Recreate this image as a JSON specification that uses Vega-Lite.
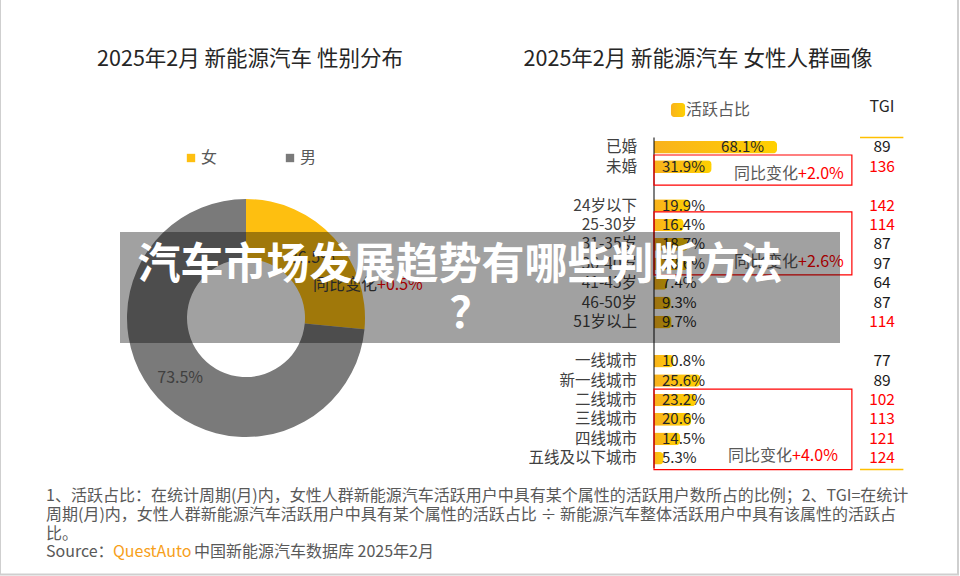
{
  "$schema": "https://vega.github.io/schema/vega-lite/v6.json",
  "width": 960,
  "height": 576,
  "autosize": {"type": "none"},
  "padding": 0,
  "background": "#ffffff",
  "config": {
    "view": {"stroke": null},
    "font": "Noto Sans CJK SC",
    "text": {"font": "Noto Sans CJK SC"},
    "axis": {"labelFont": "Noto Sans CJK SC"},
    "legend": {"labelFont": "Noto Sans CJK SC"}
  },
  "datasets": {
    "gender": [
      {"gender": "女", "share": 0.265},
      {"gender": "男", "share": 0.735}
    ],
    "profile": [
      {"cat": "已婚", "share": 0.681, "tgi": 89},
      {"cat": "未婚", "share": 0.319, "tgi": 136},
      {"cat": "24岁以下", "share": 0.199, "tgi": 142},
      {"cat": "25-30岁", "share": 0.164, "tgi": 114},
      {"cat": "31-35岁", "share": 0.187, "tgi": 87},
      {"cat": "36-40岁", "share": 0.186, "tgi": 97},
      {"cat": "41-45岁", "share": 0.074, "tgi": 64},
      {"cat": "46-50岁", "share": 0.093, "tgi": 87},
      {"cat": "51岁以上", "share": 0.097, "tgi": 114},
      {"cat": "一线城市", "share": 0.108, "tgi": 77},
      {"cat": "新一线城市", "share": 0.256, "tgi": 89},
      {"cat": "二线城市", "share": 0.232, "tgi": 102},
      {"cat": "三线城市", "share": 0.206, "tgi": 113},
      {"cat": "四线城市", "share": 0.145, "tgi": 121},
      {"cat": "五线及以下城市", "share": 0.053, "tgi": 124}
    ]
  },
  "resolve": {"scale": {"x": "independent", "y": "independent", "color": "independent", "theta": "independent"}},
  "layer": [
    {
      "data": {"values": [{}]},
      "mark": {"type": "rect", "fill": null, "stroke": "#CFCFCF", "strokeWidth": 2},
      "encoding": {
        "x": {"datum": 0, "type": "quantitative", "scale": {"domain": [0, 960], "range": [0, 960], "nice": false, "zero": false}, "axis": null},
        "x2": {"datum": 958},
        "y": {"datum": -4, "type": "quantitative", "scale": {"domain": [0, 576], "range": [0, 576], "nice": false, "zero": false}, "axis": null},
        "y2": {"datum": 574.5}
      }
    },
    {
      "data": {"name": "gender"},
      "encoding": {
        "theta": {"field": "share", "type": "quantitative", "stack": true},
        "x": {"datum": 246, "type": "quantitative", "scale": {"domain": [0, 960], "range": [0, 960], "nice": false, "zero": false}, "axis": null},
        "y": {"datum": 318, "type": "quantitative", "scale": {"domain": [0, 576], "range": [0, 576], "nice": false, "zero": false}, "axis": null},
        "color": {
          "field": "gender", "type": "nominal",
          "scale": {"domain": ["女", "男"], "range": ["#FEBF10", "#7A7A7A"]},
          "legend": {"title": null, "orient": "none", "legendX": 183, "legendY": 150, "direction": "horizontal", "symbolType": "square", "symbolSize": 70, "labelFontSize": 16, "labelColor": "#595959", "columnPadding": 64, "labelOffset": 2, "padding": 0, "symbolStrokeWidth": 0}
        }
      },
      "layer": [
        {"mark": {"type": "arc", "innerRadius": 59, "outerRadius": 119}},
        {
          "mark": {"type": "text", "radius": 89, "fontSize": 16},
          "encoding": {
            "text": {"field": "share", "type": "quantitative", "format": ".1%"},
            "color": {"value": "#404040"}
          }
        }
      ]
    },
    {
      "data": {"name": "profile"},
      "layer": [
        {
          "mark": {"type": "bar", "height": {"band": 0.65}, "cornerRadiusEnd": 4, "color": {"gradient": "linear", "x1": 0, "y1": 0, "x2": 1, "y2": 0, "stops": [{"offset": 0, "color": "#F9B21D"}, {"offset": 1, "color": "#FFD000"}]}},
          "encoding": {
            "y": {"field": "cat", "type": "nominal", "sort": null, "scale": {"domain": ["已婚", "未婚", "sp1", "24岁以下", "25-30岁", "31-35岁", "36-40岁", "41-45岁", "46-50岁", "51岁以上", "sp2", "一线城市", "新一线城市", "二线城市", "三线城市", "四线城市", "五线及以下城市"], "range": [137.5, 468], "paddingInner": 0, "paddingOuter": 0}, "axis": null},
            "x": {"field": "share", "type": "quantitative", "scale": {"domain": [0, 1.4], "range": [654, 907], "nice": false, "zero": false}, "axis": null}
          }
        },
        {
          "mark": {"type": "text", "align": "right", "baseline": "middle", "dx": -17, "fontSize": 15.5, "color": "#404040"},
          "encoding": {
            "y": {"field": "cat", "type": "nominal", "sort": null, "scale": {"domain": ["已婚", "未婚", "sp1", "24岁以下", "25-30岁", "31-35岁", "36-40岁", "41-45岁", "46-50岁", "51岁以上", "sp2", "一线城市", "新一线城市", "二线城市", "三线城市", "四线城市", "五线及以下城市"], "range": [137.5, 468], "paddingInner": 0, "paddingOuter": 0}, "axis": null},
            "x": {"datum": 0, "type": "quantitative", "scale": {"domain": [0, 1.4], "range": [654, 907], "nice": false, "zero": false}, "axis": null},
            "text": {"field": "cat", "type": "nominal"}
          }
        },
        {
          "transform": [{"filter": "datum.share < 0.5"}],
          "mark": {"type": "text", "align": "left", "baseline": "middle", "dx": 8, "fontSize": 15, "color": "#262626"},
          "encoding": {
            "y": {"field": "cat", "type": "nominal", "sort": null, "scale": {"domain": ["已婚", "未婚", "sp1", "24岁以下", "25-30岁", "31-35岁", "36-40岁", "41-45岁", "46-50岁", "51岁以上", "sp2", "一线城市", "新一线城市", "二线城市", "三线城市", "四线城市", "五线及以下城市"], "range": [137.5, 468], "paddingInner": 0, "paddingOuter": 0}, "axis": null},
            "x": {"datum": 0, "type": "quantitative", "scale": {"domain": [0, 1.4], "range": [654, 907], "nice": false, "zero": false}, "axis": null},
            "text": {"field": "share", "type": "quantitative", "format": ".1%"}
          }
        },
        {
          "transform": [{"filter": "datum.share >= 0.5"}],
          "mark": {"type": "text", "align": "right", "baseline": "middle", "dx": -13, "fontSize": 15, "color": "#262626"},
          "encoding": {
            "y": {"field": "cat", "type": "nominal", "sort": null, "scale": {"domain": ["已婚", "未婚", "sp1", "24岁以下", "25-30岁", "31-35岁", "36-40岁", "41-45岁", "46-50岁", "51岁以上", "sp2", "一线城市", "新一线城市", "二线城市", "三线城市", "四线城市", "五线及以下城市"], "range": [137.5, 468], "paddingInner": 0, "paddingOuter": 0}, "axis": null},
            "x": {"field": "share", "type": "quantitative", "scale": {"domain": [0, 1.4], "range": [654, 907], "nice": false, "zero": false}, "axis": null},
            "text": {"field": "share", "type": "quantitative", "format": ".1%"}
          }
        },
        {
          "mark": {"type": "text", "align": "center", "baseline": "middle", "fontSize": 15.5},
          "encoding": {
            "y": {"field": "cat", "type": "nominal", "sort": null, "scale": {"domain": ["已婚", "未婚", "sp1", "24岁以下", "25-30岁", "31-35岁", "36-40岁", "41-45岁", "46-50岁", "51岁以上", "sp2", "一线城市", "新一线城市", "二线城市", "三线城市", "四线城市", "五线及以下城市"], "range": [137.5, 468], "paddingInner": 0, "paddingOuter": 0}, "axis": null},
            "x": {"datum": 1.262, "type": "quantitative", "scale": {"domain": [0, 1.4], "range": [654, 907], "nice": false, "zero": false}, "axis": null},
            "text": {"field": "tgi", "type": "quantitative"},
            "color": {"condition": {"test": "datum.tgi > 100", "value": "#FF0000"}, "value": "#1A1A1A"}
          }
        },
        {
          "data": {"values": [{}]},
          "layer": [
            {
              "mark": {"type": "rule", "color": "#000000", "strokeWidth": 1},
              "encoding": {
                "x": {"datum": 0, "type": "quantitative", "scale": {"domain": [0, 1.4], "range": [654, 907], "nice": false, "zero": false}, "axis": null},
                "y": {"datum": "已婚", "type": "nominal", "bandPosition": 0, "scale": {"domain": ["已婚", "未婚", "sp1", "24岁以下", "25-30岁", "31-35岁", "36-40岁", "41-45岁", "46-50岁", "51岁以上", "sp2", "一线城市", "新一线城市", "二线城市", "三线城市", "四线城市", "五线及以下城市"], "range": [137.5, 468], "paddingInner": 0, "paddingOuter": 0}, "axis": null},
                "y2": {"datum": "五线及以下城市", "bandPosition": 1}
              }
            },
            {
              "mark": {"type": "text", "text": "TGI", "align": "center", "baseline": "middle", "fontSize": 16, "color": "#262626"},
              "encoding": {
                "x": {"datum": 1.262, "type": "quantitative", "scale": {"domain": [0, 1.4], "range": [654, 907], "nice": false, "zero": false}, "axis": null},
                "y": {"datum": "已婚", "type": "nominal", "bandPosition": -1.57, "scale": {"domain": ["已婚", "未婚", "sp1", "24岁以下", "25-30岁", "31-35岁", "36-40岁", "41-45岁", "46-50岁", "51岁以上", "sp2", "一线城市", "新一线城市", "二线城市", "三线城市", "四线城市", "五线及以下城市"], "range": [137.5, 468], "paddingInner": 0, "paddingOuter": 0}, "axis": null}
              }
            },
            {
              "mark": {"type": "rule", "color": "#FFC000", "strokeWidth": 1.5},
              "encoding": {
                "x": {"datum": 1.14, "type": "quantitative", "scale": {"domain": [0, 1.4], "range": [654, 907], "nice": false, "zero": false}, "axis": null},
                "x2": {"datum": 1.38},
                "y": {"datum": "已婚", "type": "nominal", "bandPosition": 0, "scale": {"domain": ["已婚", "未婚", "sp1", "24岁以下", "25-30岁", "31-35岁", "36-40岁", "41-45岁", "46-50岁", "51岁以上", "sp2", "一线城市", "新一线城市", "二线城市", "三线城市", "四线城市", "五线及以下城市"], "range": [137.5, 468], "paddingInner": 0, "paddingOuter": 0}, "axis": null}
              }
            },
            {
              "mark": {"type": "rule", "color": "#FFC000", "strokeWidth": 1.5},
              "encoding": {
                "x": {"datum": 1.14, "type": "quantitative", "scale": {"domain": [0, 1.4], "range": [654, 907], "nice": false, "zero": false}, "axis": null},
                "x2": {"datum": 1.38},
                "y": {"datum": "五线及以下城市", "type": "nominal", "bandPosition": 1.08, "scale": {"domain": ["已婚", "未婚", "sp1", "24岁以下", "25-30岁", "31-35岁", "36-40岁", "41-45岁", "46-50岁", "51岁以上", "sp2", "一线城市", "新一线城市", "二线城市", "三线城市", "四线城市", "五线及以下城市"], "range": [137.5, 468], "paddingInner": 0, "paddingOuter": 0}, "axis": null}
              }
            },
            {
              "mark": {"type": "rect", "cornerRadius": 3, "color": {"gradient": "linear", "x1": 0, "y1": 0, "x2": 1, "y2": 0, "stops": [{"offset": 0, "color": "#F9B21D"}, {"offset": 1, "color": "#FFD000"}]}},
              "encoding": {
                "x": {"datum": 0.094, "type": "quantitative", "scale": {"domain": [0, 1.4], "range": [654, 907], "nice": false, "zero": false}, "axis": null},
                "x2": {"datum": 0.172},
                "y": {"datum": "已婚", "type": "nominal", "bandPosition": -1.78, "scale": {"domain": ["已婚", "未婚", "sp1", "24岁以下", "25-30岁", "31-35岁", "36-40岁", "41-45岁", "46-50岁", "51岁以上", "sp2", "一线城市", "新一线城市", "二线城市", "三线城市", "四线城市", "五线及以下城市"], "range": [137.5, 468], "paddingInner": 0, "paddingOuter": 0}, "axis": null},
                "y2": {"datum": "已婚", "bandPosition": -1.06}
              }
            },
            {
              "mark": {"type": "text", "text": "活跃占比", "align": "left", "baseline": "middle", "fontSize": 16, "color": "#595959"},
              "encoding": {
                "x": {"datum": 0.177, "type": "quantitative", "scale": {"domain": [0, 1.4], "range": [654, 907], "nice": false, "zero": false}, "axis": null},
                "y": {"datum": "已婚", "type": "nominal", "bandPosition": -1.43, "scale": {"domain": ["已婚", "未婚", "sp1", "24岁以下", "25-30岁", "31-35岁", "36-40岁", "41-45岁", "46-50岁", "51岁以上", "sp2", "一线城市", "新一线城市", "二线城市", "三线城市", "四线城市", "五线及以下城市"], "range": [137.5, 468], "paddingInner": 0, "paddingOuter": 0}, "axis": null}
              }
            },
            {
              "mark": {"type": "rect", "fill": null, "stroke": "#FF0000", "strokeWidth": 1.2},
              "encoding": {
                "x": {"datum": 0, "type": "quantitative", "scale": {"domain": [0, 1.4], "range": [654, 907], "nice": false, "zero": false}, "axis": null},
                "x2": {"datum": 1.095},
                "y": {"datum": "未婚", "type": "nominal", "bandPosition": -0.1, "scale": {"domain": ["已婚", "未婚", "sp1", "24岁以下", "25-30岁", "31-35岁", "36-40岁", "41-45岁", "46-50岁", "51岁以上", "sp2", "一线城市", "新一线城市", "二线城市", "三线城市", "四线城市", "五线及以下城市"], "range": [137.5, 468], "paddingInner": 0, "paddingOuter": 0}, "axis": null},
                "y2": {"datum": "未婚", "bandPosition": 1.45}
              }
            },
            {
              "mark": {"type": "rect", "fill": null, "stroke": "#FF0000", "strokeWidth": 1.2},
              "encoding": {
                "x": {"datum": 0, "type": "quantitative", "scale": {"domain": [0, 1.4], "range": [654, 907], "nice": false, "zero": false}, "axis": null},
                "x2": {"datum": 1.095},
                "y": {"datum": "25-30岁", "type": "nominal", "bandPosition": -0.17, "scale": {"domain": ["已婚", "未婚", "sp1", "24岁以下", "25-30岁", "31-35岁", "36-40岁", "41-45岁", "46-50岁", "51岁以上", "sp2", "一线城市", "新一线城市", "二线城市", "三线城市", "四线城市", "五线及以下城市"], "range": [137.5, 468], "paddingInner": 0, "paddingOuter": 0}, "axis": null},
                "y2": {"datum": "36-40岁", "bandPosition": 1.07}
              }
            },
            {
              "mark": {"type": "rect", "fill": null, "stroke": "#FF0000", "strokeWidth": 1.2},
              "encoding": {
                "x": {"datum": 0, "type": "quantitative", "scale": {"domain": [0, 1.4], "range": [654, 907], "nice": false, "zero": false}, "axis": null},
                "x2": {"datum": 1.095},
                "y": {"datum": "二线城市", "type": "nominal", "bandPosition": -0.06, "scale": {"domain": ["已婚", "未婚", "sp1", "24岁以下", "25-30岁", "31-35岁", "36-40岁", "41-45岁", "46-50岁", "51岁以上", "sp2", "一线城市", "新一线城市", "二线城市", "三线城市", "四线城市", "五线及以下城市"], "range": [137.5, 468], "paddingInner": 0, "paddingOuter": 0}, "axis": null},
                "y2": {"datum": "五线及以下城市", "bandPosition": 1.08}
              }
            },
            {
              "mark": {"type": "text", "text": "同比变化", "align": "right", "baseline": "middle", "fontSize": 16, "color": "#595959"},
              "encoding": {
                "x": {"datum": 0.797, "type": "quantitative", "scale": {"domain": [0, 1.4], "range": [654, 907], "nice": false, "zero": false}, "axis": null},
                "y": {"datum": "未婚", "type": "nominal", "bandPosition": 0.87, "scale": {"domain": ["已婚", "未婚", "sp1", "24岁以下", "25-30岁", "31-35岁", "36-40岁", "41-45岁", "46-50岁", "51岁以上", "sp2", "一线城市", "新一线城市", "二线城市", "三线城市", "四线城市", "五线及以下城市"], "range": [137.5, 468], "paddingInner": 0, "paddingOuter": 0}, "axis": null}
              }
            },
            {
              "mark": {"type": "text", "text": "+2.0%", "align": "left", "baseline": "middle", "fontSize": 16, "color": "#FF0000"},
              "encoding": {
                "x": {"datum": 0.797, "type": "quantitative", "scale": {"domain": [0, 1.4], "range": [654, 907], "nice": false, "zero": false}, "axis": null},
                "y": {"datum": "未婚", "type": "nominal", "bandPosition": 0.87, "scale": {"domain": ["已婚", "未婚", "sp1", "24岁以下", "25-30岁", "31-35岁", "36-40岁", "41-45岁", "46-50岁", "51岁以上", "sp2", "一线城市", "新一线城市", "二线城市", "三线城市", "四线城市", "五线及以下城市"], "range": [137.5, 468], "paddingInner": 0, "paddingOuter": 0}, "axis": null}
              }
            },
            {
              "mark": {"type": "text", "text": "同比变化", "align": "right", "baseline": "middle", "fontSize": 16, "color": "#595959"},
              "encoding": {
                "x": {"datum": 0.797, "type": "quantitative", "scale": {"domain": [0, 1.4], "range": [654, 907], "nice": false, "zero": false}, "axis": null},
                "y": {"datum": "36-40岁", "type": "nominal", "bandPosition": 0.42, "scale": {"domain": ["已婚", "未婚", "sp1", "24岁以下", "25-30岁", "31-35岁", "36-40岁", "41-45岁", "46-50岁", "51岁以上", "sp2", "一线城市", "新一线城市", "二线城市", "三线城市", "四线城市", "五线及以下城市"], "range": [137.5, 468], "paddingInner": 0, "paddingOuter": 0}, "axis": null}
              }
            },
            {
              "mark": {"type": "text", "text": "+2.6%", "align": "left", "baseline": "middle", "fontSize": 16, "color": "#FF0000"},
              "encoding": {
                "x": {"datum": 0.797, "type": "quantitative", "scale": {"domain": [0, 1.4], "range": [654, 907], "nice": false, "zero": false}, "axis": null},
                "y": {"datum": "36-40岁", "type": "nominal", "bandPosition": 0.42, "scale": {"domain": ["已婚", "未婚", "sp1", "24岁以下", "25-30岁", "31-35岁", "36-40岁", "41-45岁", "46-50岁", "51岁以上", "sp2", "一线城市", "新一线城市", "二线城市", "三线城市", "四线城市", "五线及以下城市"], "range": [137.5, 468], "paddingInner": 0, "paddingOuter": 0}, "axis": null}
              }
            },
            {
              "mark": {"type": "text", "text": "同比变化", "align": "right", "baseline": "middle", "fontSize": 16, "color": "#595959"},
              "encoding": {
                "x": {"datum": 0.764, "type": "quantitative", "scale": {"domain": [0, 1.4], "range": [654, 907], "nice": false, "zero": false}, "axis": null},
                "y": {"datum": "五线及以下城市", "type": "nominal", "bandPosition": 0.4, "scale": {"domain": ["已婚", "未婚", "sp1", "24岁以下", "25-30岁", "31-35岁", "36-40岁", "41-45岁", "46-50岁", "51岁以上", "sp2", "一线城市", "新一线城市", "二线城市", "三线城市", "四线城市", "五线及以下城市"], "range": [137.5, 468], "paddingInner": 0, "paddingOuter": 0}, "axis": null}
              }
            },
            {
              "mark": {"type": "text", "text": "+4.0%", "align": "left", "baseline": "middle", "fontSize": 16, "color": "#FF0000"},
              "encoding": {
                "x": {"datum": 0.764, "type": "quantitative", "scale": {"domain": [0, 1.4], "range": [654, 907], "nice": false, "zero": false}, "axis": null},
                "y": {"datum": "五线及以下城市", "type": "nominal", "bandPosition": 0.4, "scale": {"domain": ["已婚", "未婚", "sp1", "24岁以下", "25-30岁", "31-35岁", "36-40岁", "41-45岁", "46-50岁", "51岁以上", "sp2", "一线城市", "新一线城市", "二线城市", "三线城市", "四线城市", "五线及以下城市"], "range": [137.5, 468], "paddingInner": 0, "paddingOuter": 0}, "axis": null}
              }
            }
          ]
        }
      ]
    },
    {
      "data": {"values": [{}]},
      "layer": [
        {
          "mark": {"type": "text", "text": "2025年2月 新能源汽车 性别分布", "align": "center", "baseline": "middle", "fontSize": 21.5, "color": "#262626"},
          "encoding": {
            "x": {"datum": 250, "type": "quantitative", "scale": {"domain": [0, 960], "range": [0, 960], "nice": false, "zero": false}, "axis": null},
            "y": {"datum": 60, "type": "quantitative", "scale": {"domain": [0, 576], "range": [0, 576], "nice": false, "zero": false}, "axis": null}
          }
        },
        {
          "mark": {"type": "text", "text": "2025年2月 新能源汽车 女性人群画像", "align": "center", "baseline": "middle", "fontSize": 21.5, "color": "#262626"},
          "encoding": {
            "x": {"datum": 698, "type": "quantitative", "scale": {"domain": [0, 960], "range": [0, 960], "nice": false, "zero": false}, "axis": null},
            "y": {"datum": 60, "type": "quantitative", "scale": {"domain": [0, 576], "range": [0, 576], "nice": false, "zero": false}, "axis": null}
          }
        },
        {
          "mark": {"type": "text", "text": "1、活跃占比：在统计周期(月)内，女性人群新能源汽车活跃用户中具有某个属性的活跃用户数所占的比例；2、TGI=在统计", "align": "left", "baseline": "middle", "fontSize": 16, "color": "#595959"},
          "encoding": {
            "x": {"datum": 46, "type": "quantitative", "scale": {"domain": [0, 960], "range": [0, 960], "nice": false, "zero": false}, "axis": null},
            "y": {"datum": 495.5, "type": "quantitative", "scale": {"domain": [0, 576], "range": [0, 576], "nice": false, "zero": false}, "axis": null}
          }
        },
        {
          "mark": {"type": "text", "text": "周期(月)内，女性人群新能源汽车活跃用户中具有某个属性的活跃占比 ÷ 新能源汽车整体活跃用户中具有该属性的活跃占", "align": "left", "baseline": "middle", "fontSize": 16, "color": "#595959"},
          "encoding": {
            "x": {"datum": 46, "type": "quantitative", "scale": {"domain": [0, 960], "range": [0, 960], "nice": false, "zero": false}, "axis": null},
            "y": {"datum": 514.5, "type": "quantitative", "scale": {"domain": [0, 576], "range": [0, 576], "nice": false, "zero": false}, "axis": null}
          }
        },
        {
          "mark": {"type": "text", "text": "比。", "align": "left", "baseline": "middle", "fontSize": 16, "color": "#595959"},
          "encoding": {
            "x": {"datum": 46, "type": "quantitative", "scale": {"domain": [0, 960], "range": [0, 960], "nice": false, "zero": false}, "axis": null},
            "y": {"datum": 533.5, "type": "quantitative", "scale": {"domain": [0, 576], "range": [0, 576], "nice": false, "zero": false}, "axis": null}
          }
        },
        {
          "mark": {"type": "text", "text": "Source：", "align": "left", "baseline": "middle", "fontSize": 16, "color": "#595959"},
          "encoding": {
            "x": {"datum": 46, "type": "quantitative", "scale": {"domain": [0, 960], "range": [0, 960], "nice": false, "zero": false}, "axis": null},
            "y": {"datum": 552, "type": "quantitative", "scale": {"domain": [0, 576], "range": [0, 576], "nice": false, "zero": false}, "axis": null}
          }
        },
        {
          "mark": {"type": "text", "text": "QuestAuto", "align": "left", "baseline": "middle", "fontSize": 16, "color": "#F7A01A"},
          "encoding": {
            "x": {"datum": 113, "type": "quantitative", "scale": {"domain": [0, 960], "range": [0, 960], "nice": false, "zero": false}, "axis": null},
            "y": {"datum": 552, "type": "quantitative", "scale": {"domain": [0, 576], "range": [0, 576], "nice": false, "zero": false}, "axis": null}
          }
        },
        {
          "mark": {"type": "text", "text": "中国新能源汽车数据库 2025年2月", "align": "left", "baseline": "middle", "fontSize": 16, "color": "#595959"},
          "encoding": {
            "x": {"datum": 194, "type": "quantitative", "scale": {"domain": [0, 960], "range": [0, 960], "nice": false, "zero": false}, "axis": null},
            "y": {"datum": 552, "type": "quantitative", "scale": {"domain": [0, 576], "range": [0, 576], "nice": false, "zero": false}, "axis": null}
          }
        },
        {
          "mark": {"type": "text", "text": "同比变化", "align": "right", "baseline": "middle", "fontSize": 16, "color": "#404040"},
          "encoding": {
            "x": {"datum": 377, "type": "quantitative", "scale": {"domain": [0, 960], "range": [0, 960], "nice": false, "zero": false}, "axis": null},
            "y": {"datum": 285, "type": "quantitative", "scale": {"domain": [0, 576], "range": [0, 576], "nice": false, "zero": false}, "axis": null}
          }
        },
        {
          "mark": {"type": "text", "text": "+0.5%", "align": "left", "baseline": "middle", "fontSize": 16, "color": "#FF0000"},
          "encoding": {
            "x": {"datum": 377, "type": "quantitative", "scale": {"domain": [0, 960], "range": [0, 960], "nice": false, "zero": false}, "axis": null},
            "y": {"datum": 285, "type": "quantitative", "scale": {"domain": [0, 576], "range": [0, 576], "nice": false, "zero": false}, "axis": null}
          }
        },
        {
          "mark": {"type": "rect", "color": "#000000", "opacity": 0.37},
          "encoding": {
            "x": {"datum": 120, "type": "quantitative", "scale": {"domain": [0, 960], "range": [0, 960], "nice": false, "zero": false}, "axis": null},
            "x2": {"datum": 840},
            "y": {"datum": 232, "type": "quantitative", "scale": {"domain": [0, 576], "range": [0, 576], "nice": false, "zero": false}, "axis": null},
            "y2": {"datum": 343}
          }
        },
        {
          "mark": {"type": "text", "text": "汽车市场发展趋势有哪些判断方法", "align": "center", "baseline": "middle", "fontSize": 43, "fontWeight": "bold", "color": "#FFFFFF"},
          "encoding": {
            "x": {"datum": 460, "type": "quantitative", "scale": {"domain": [0, 960], "range": [0, 960], "nice": false, "zero": false}, "axis": null},
            "y": {"datum": 266, "type": "quantitative", "scale": {"domain": [0, 576], "range": [0, 576], "nice": false, "zero": false}, "axis": null}
          }
        },
        {
          "mark": {"type": "text", "text": "？", "align": "center", "baseline": "middle", "fontSize": 43, "fontWeight": "bold", "color": "#FFFFFF"},
          "encoding": {
            "x": {"datum": 471, "type": "quantitative", "scale": {"domain": [0, 960], "range": [0, 960], "nice": false, "zero": false}, "axis": null},
            "y": {"datum": 315, "type": "quantitative", "scale": {"domain": [0, 576], "range": [0, 576], "nice": false, "zero": false}, "axis": null}
          }
        }
      ]
    }
  ]
}
